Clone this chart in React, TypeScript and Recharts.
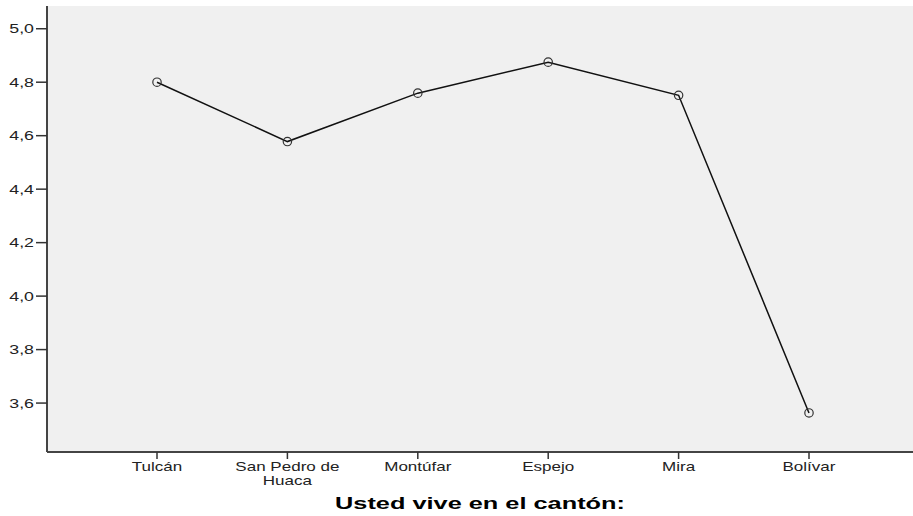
import React from 'react'
import { LineChart, Line, XAxis, YAxis, CartesianGrid } from 'recharts'

// category labels (line breaks where the original wraps)
const cantones = ['Tulcán', 'San Pedro de\nHuaca', 'Montúfar', 'Espejo', 'Mira', 'Bolívar']
const medias = [4.80, 4.578, 4.759, 4.875, 4.751, 3.563]
const yTicks = [3.6, 3.8, 4.0, 4.2, 4.4, 4.6, 4.8, 5.0]
const yDomain = [3.417, 5.085]
const axisTitle = 'Usted vive en el cantón:'

const chartData = cantones.map((canton, i) => ({ canton, media: medias[i] }))

const FONT = 'Arial, "Liberation Sans", sans-serif'
const STRETCH = 1.42

const XTick = (props: any) => {
  const { x, y, payload } = props
  const lines = String(payload.value).split('\n')
  return (
    <g transform={`translate(${x},${y}) scale(${STRETCH},1)`}>
      <text x={0} y={11} textAnchor="middle" fontSize={12} fontFamily={FONT} fill="#222">
        {lines.map((line, i) => (
          <tspan key={i} x={0} dy={i === 0 ? 0 : 14}>
            {line}
          </tspan>
        ))}
      </text>
    </g>
  )
}

const YTick = (props: any) => {
  const { x, y, payload } = props
  return (
    <g transform={`translate(${x},${y}) scale(${STRETCH},1)`}>
      <text x={0} y={4.5} textAnchor="end" fontSize={12.5} fontFamily={FONT} fill="#222">
        {payload.value.toFixed(1).replace('.', ',')}
      </text>
    </g>
  )
}

const AxisTitle = (props: any) => {
  const { viewBox } = props
  const cx = viewBox.x + viewBox.width / 2
  return (
    <g transform={`translate(${cx},509) scale(1.49,1)`}>
      <text x={0} y={0} textAnchor="middle" fontSize={17} fontWeight="bold" fontFamily={FONT} fill="#000">
        {axisTitle}
      </text>
    </g>
  )
}

const App: React.FC = () => {
  return (
    <div style={{ position: 'absolute', left: 0, top: 0, width: 913, height: 516, overflow: 'hidden', background: '#fff' }}>
      <LineChart width={913} height={516} data={chartData} margin={{ top: 6, right: 0, left: 0, bottom: 0 }}>
        <CartesianGrid fill="#f0f0f0" horizontal={false} vertical={false} />
        <XAxis
          dataKey="canton"
          height={64}
          padding={{ left: 110, right: 104 }}
          interval={0}
          tickSize={7}
          tickMargin={1}
          stroke="#444"
          strokeWidth={2}
          tickLine={{ stroke: '#333', strokeWidth: 1.5 }}
          tick={<XTick />}
          label={<AxisTitle />}
        />
        <XAxis
          xAxisId="top"
          orientation="top"
          dataKey="canton"
          height={0}
          tick={false}
          tickLine={false}
          stroke="#8a8a8a"
          strokeWidth={2}
        />
        <YAxis
          width={47}
          domain={yDomain}
          ticks={yTicks}
          allowDataOverflow
          tickSize={11}
          tickMargin={2}
          stroke="#444"
          strokeWidth={2}
          tickLine={{ stroke: '#333', strokeWidth: 1.5 }}
          tick={<YTick />}
        />
        <Line
          type="linear"
          dataKey="media"
          stroke="#111"
          strokeWidth={1.5}
          dot={{ r: 4.2, stroke: '#333', strokeWidth: 1.2, fill: 'none' }}
          isAnimationActive={false}
        />
      </LineChart>
    </div>
  )
}

export default App
